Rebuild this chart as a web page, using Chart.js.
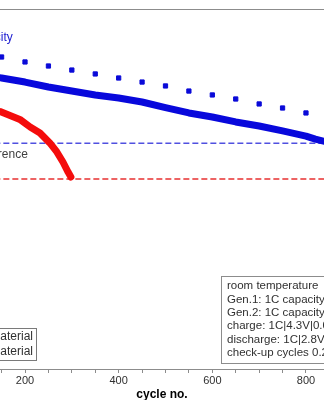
<!DOCTYPE html>
<html>
<head>
<meta charset="utf-8">
<script src="https://cdn.jsdelivr.net/npm/chart.js@4.4.0/dist/chart.umd.min.js"></script>
<style>
  html, body { margin: 0; padding: 0; background: #fff; }
  #container-grafico { width: 324px; height: 400px; }
</style>
</head>
<body>
<div id="container-grafico"><canvas id="myChart"></canvas></div>
<script>
/* Dados (capacidade em unidades do eixo y) */
const ciclosCheckup = [150, 200, 250, 300, 350, 400, 450, 500, 550, 600, 650, 700, 750, 800];
const capCheckupGen2 = [2.080, 2.047, 2.020, 1.993, 1.967, 1.940, 1.913, 1.887, 1.853, 1.827, 1.800, 1.767, 1.740, 1.707];

const ciclosGen2 = [140, 150, 200, 250, 300, 350, 400, 450, 500, 550, 600, 650, 700, 750, 800, 820, 840];
const capGen2 = [1.943, 1.940, 1.913, 1.880, 1.853, 1.827, 1.807, 1.780, 1.743, 1.707, 1.680, 1.647, 1.620, 1.587, 1.553, 1.533, 1.517];

const ciclosGen1 = [140, 147, 168, 189, 211, 232, 253, 268, 281, 292, 298];
const capGen1 = [1.720, 1.716, 1.690, 1.664, 1.613, 1.573, 1.507, 1.447, 1.380, 1.313, 1.280];

const ciclosReferencia = [0, 1000];
const refGen2 = 1.505;
const refGen1 = 1.267;

const ticksX = [200, 400, 600, 800];
const rotulosLegenda = ['Gen.1 material', 'Gen.2 material'];
const linhasInfo = [
  'room temperature',
  'Gen.1: 1C capacity (red)',
  'Gen.2: 1C capacity (blue)',
  'charge: 1C|4.3V|0.05C',
  'discharge: 1C|2.8V',
  'check-up cycles 0.2C'
];

const fonteTexto = '"Liberation Sans", Arial, sans-serif';

function pontos(xs, ys) {
  return xs.map((x, i) => ({ x: x, y: ys[i] }));
}

/* Plugin para desenhar borda superior, notas, legenda e caixa de informações */
const pluginExtras = {
  id: 'extras',
  afterDraw(chart) {
    const ctx = chart.ctx;
    const area = chart.chartArea;
    const sx = chart.scales.x;
    const sy = chart.scales.y;
    ctx.save();

    // borda superior
    ctx.strokeStyle = '#8c8c8c';
    ctx.lineWidth = 1;
    ctx.beginPath();
    ctx.moveTo(area.left, area.top + 0.5);
    ctx.lineTo(area.right, area.top + 0.5);
    ctx.stroke();

    // notas
    ctx.textBaseline = 'middle';
    ctx.textAlign = 'right';
    ctx.font = '12px ' + fonteTexto;
    ctx.fillStyle = '#1a1ad0';
    ctx.fillText('Gen.2: 0.2C capacity', sx.getPixelForValue(174), sy.getPixelForValue(2.207));
    ctx.fillStyle = '#404040';
    ctx.fillText('EOL reference', sx.getPixelForValue(206), sy.getPixelForValue(1.427));

    // legenda
    ctx.fillStyle = '#ffffff';
    ctx.fillRect(-60, 328, 97, 32);
    ctx.strokeStyle = '#7a7a7a';
    ctx.strokeRect(-60.5, 328.5, 97, 32);
    ctx.font = '12px ' + fonteTexto;
    ctx.fillStyle = '#303030';
    rotulosLegenda.forEach((r, i) => {
      ctx.fillText(r, 33, 337 + i * 15);
    });

    // caixa de informações
    ctx.fillStyle = '#ffffff';
    ctx.fillRect(221, 276, 200, 87);
    ctx.strokeStyle = '#8c8c8c';
    ctx.strokeRect(221.5, 276.5, 200, 87);
    ctx.textAlign = 'left';
    ctx.font = '11.5px ' + fonteTexto;
    ctx.fillStyle = '#303030';
    linhasInfo.forEach((l, i) => {
      ctx.fillText(l, 227, 286 + i * 13.4);
    });
    ctx.restore();
  }
};

var ctx = document.getElementById('myChart');
var myChart = new Chart(ctx, {
  type: 'scatter',
  data: {
    datasets: [
      {
        label: 'Gen.2 check-up',
        data: pontos(ciclosCheckup, capCheckupGen2),
        showLine: false,
        pointStyle: 'rect',
        pointRadius: 3,
        borderWidth: 1,
        backgroundColor: '#0a0ad8',
        borderColor: '#0a0ad8'
      },
      {
        label: rotulosLegenda[1],
        data: pontos(ciclosGen2, capGen2),
        showLine: true,
        pointRadius: 0,
        borderWidth: 7,
        borderColor: '#0808dc',
        borderCapStyle: 'round',
        borderJoinStyle: 'round'
      },
      {
        label: rotulosLegenda[0],
        data: pontos(ciclosGen1, capGen1),
        showLine: true,
        pointRadius: 0,
        borderWidth: 7,
        borderColor: '#f40c0c',
        borderCapStyle: 'round',
        borderJoinStyle: 'round'
      },
      {
        label: 'Gen.2 reference',
        data: pontos(ciclosReferencia, [refGen2, refGen2]),
        showLine: true,
        pointRadius: 0,
        borderWidth: 1.5,
        borderDash: [6, 3],
        borderColor: '#5050e0'
      },
      {
        label: 'Gen.1 reference',
        data: pontos(ciclosReferencia, [refGen1, refGen1]),
        showLine: true,
        pointRadius: 0,
        borderWidth: 1.5,
        borderDash: [6, 3],
        borderColor: '#e83030'
      }
    ]
  },
  options: {
    responsive: true,
    maintainAspectRatio: false,
    animation: false,
    layout: { autoPadding: false, padding: { top: 9, left: 0, right: 0, bottom: 0 } },
    plugins: {
      legend: { display: false },
      tooltip: { enabled: false }
    },
    scales: {
      x: {
        type: 'linear',
        min: 146.6,
        max: 838.5,
        afterBuildTicks: (escala) => {
          let t = [];
          for (let c = 150; c <= 800; c += 50) t.push({ value: c });
          escala.ticks = t;
        },
        afterFit: (escala) => { escala.height = 31; },
        grid: {
          drawOnChartArea: false,
          drawTicks: true,
          tickLength: 4,
          color: '#8c8c8c'
        },
        border: { color: '#8c8c8c' },
        ticks: {
          autoSkip: false,
          maxRotation: 0,
          padding: 1,
          color: '#303030',
          font: { family: fonteTexto, size: 11 },
          callback: (v) => ticksX.includes(v) ? String(v) : ''
        },
        title: {
          display: true,
          text: 'cycle no.',
          color: '#000',
          padding: { top: 0, bottom: -2 },
          font: { family: fonteTexto, size: 12, weight: 'bold' }
        }
      },
      y: {
        display: false,
        min: 0,
        max: 2.4
      }
    }
  },
  plugins: [pluginExtras]
});
</script>
</body>
</html>
